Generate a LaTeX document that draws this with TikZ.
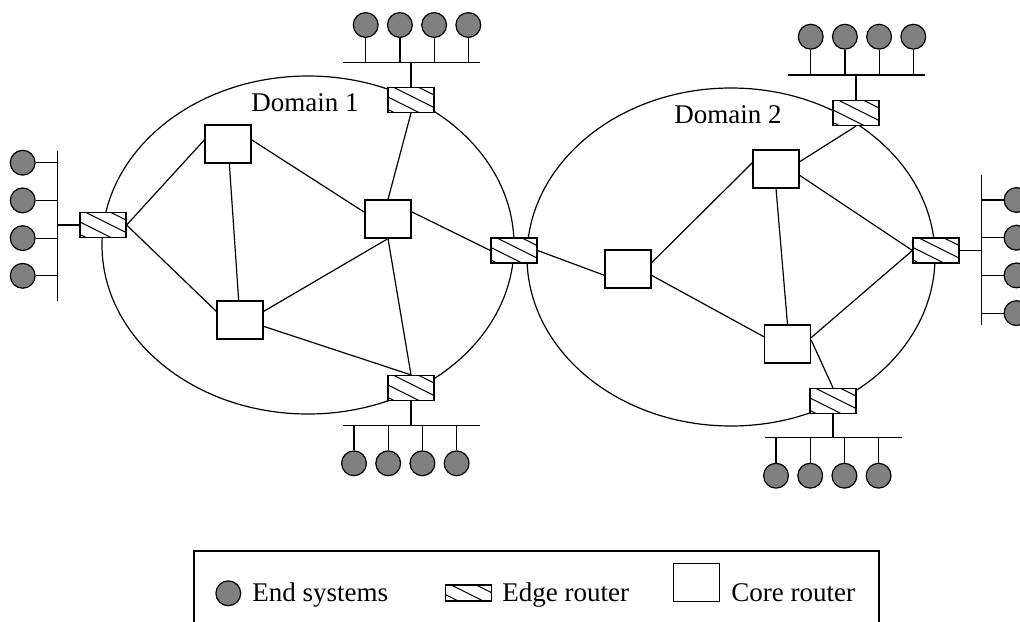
\documentclass[tikz,border=0pt]{standalone}
\usepackage{fontspec}
\setmainfont{Liberation Serif}

\begin{document}
\begin{tikzpicture}[x=0.5pt,y=-0.5pt,line width=0.6pt,
    font=\fontsize{13.5}{16}\selectfont,
    core/.style={draw,fill=white,minimum width=23pt,minimum height=19pt,inner sep=0pt},
    edgerouter/.style={draw,fill=white,minimum width=23pt,minimum height=12.5pt,inner sep=0pt,
      path picture={\foreach \hs in {-22,-9.5,3,15.5}
        \draw[line width=0.5pt] ([xshift=\hs pt]path picture bounding box.north west) -- ++(30pt,-15pt);}},
    host/.style={draw,circle,fill=black!50,minimum size=12.4pt,inner sep=0pt},
    label/.style={anchor=base west,inner sep=0pt}]
  \useasboundingbox (0,0) rectangle (1020,621);

  % domains
  \draw (308,245) ellipse [x radius=206,y radius=169];
  \draw (731,257) ellipse [x radius=204,y radius=169];
  \node (d1) at (305,103) {Domain 1};
  \node (d2) at (728,115) {Domain 2};

  % core routers
  \node[core] (c1a) at (228,144) {};
  \node[core] (c1b) at (388,219) {};
  \node[core] (c1c) at (240,320) {};
  \node[core] (c2a) at (776,169) {};
  \node[core] (c2l) at (628,269) {};
  \node[core] (c2b) at (787.5,344) {};

  % edge routers
  \node[edgerouter] (et1) at (411,100) {};
  \node[edgerouter] (el1) at (103,225) {};
  \node[edgerouter] (eb1) at (411,388) {};
  \node[edgerouter] (em) at (514,250.5) {};
  \node[edgerouter] (et2) at (856,113) {};
  \node[edgerouter] (er2) at (936,250.5) {};
  \node[edgerouter] (eb2) at (833,401) {};

  % links domain 1
  \draw (el1.east) -- (c1a.170);
  \draw (el1.east) -- (c1c.160);
  \draw (c1a) -- (c1c);
  \draw (c1a.10) -- (c1b.164);
  \draw (et1.south) -- (c1b.north);
  \draw (c1b.17) -- (em.west);
  \draw (c1b.south) -- (c1c.20);
  \draw (c1b.south) -- (eb1.north);
  \draw (c1c.-15) -- (eb1.north);
  % links domain 2
  \draw (em.east) -- (c2l.195);
  \draw (c2l.15) -- (c2a.165);
  \draw (c2l.-15) -- (c2b.163);
  \draw (c2a.17) -- (et2.south);
  \draw (c2a.-15) -- (er2.west);
  \draw (c2a.south) -- (c2b.north);
  \draw (c2b.15) -- (er2.west);
  \draw (c2b.10) -- (eb2.north);

  % end systems on horizontal buses
  \foreach \g/\busx/\busy/\hx/\hy/\rtr in {t1/343/62.3/365.7/25/et1, b1/343/425.7/354/463.3/eb1,
      t2/788/75/810.7/36.7/et2, b2/765/437.7/776/475.7/eb2} {
    \coordinate (\g-w) at (\busx,\busy);
    \coordinate (\g-e) at (\busx+137,\busy);
    \draw (\g-w) -- (\g-e);
    \draw (\rtr) -- (\rtr |- \g-w);
    \foreach \k in {0,...,3} {
      \node[host] (\g-h\k) at (\hx+34.2*\k,\hy) {};
      \draw (\g-h\k) -- (\g-h\k |- \g-w);
    }
  }
  % end systems on vertical buses
  \foreach \g/\busx/\busy/\hx/\hy/\rtr in {l1/57.3/150.7/22.7/162.7/el1, r2/981.5/175/1016.5/200/er2} {
    \coordinate (\g-n) at (\busx,\busy);
    \coordinate (\g-s) at (\busx,\busy+150);
    \draw (\g-n) -- (\g-s);
    \draw (\rtr) -- (\rtr -| \g-n);
    \foreach \k in {0,...,3} {
      \node[host] (\g-h\k) at (\hx,\hy+37.7*\k) {};
      \draw (\g-h\k) -- (\g-h\k -| \g-n);
    }
  }

  % legend
  \draw (194,640) |- (879,551) -- (879,640);
  \node[host] (lhost) at (228.3,593.3) {};
  \node[label] (lhostt) at (251.7,601) {End systems};
  \node[edgerouter,minimum height=8pt] (ledge) at (468.3,593) {};
  \node[label] (ledget) at (501.7,601) {Edge router};
  \node[core] (lcore) at (696.3,582.2) {};
  \node[label] (lcoret) at (730.7,601) {Core router};
\end{tikzpicture}
\end{document}
